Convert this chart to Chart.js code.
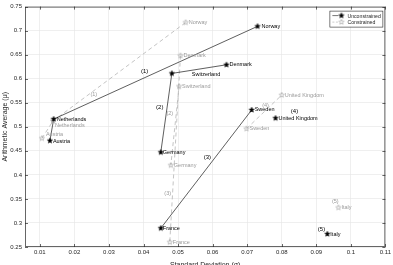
<!DOCTYPE html>
<html>
<head>
<meta charset="utf-8">
<script src="https://cdn.jsdelivr.net/npm/chart.js@4/dist/chart.umd.min.js"></script>
<style>
  html, body { margin: 0; padding: 0; background: #fff; }
</style>
</head>
<body>
<canvas id="riskChart" width="393" height="265"></canvas>
<script>
// countries, same order in every array below
const countries = ["Norway", "Denmark", "Switzerland", "Netherlands", "Austria",
  "Germany", "France", "Sweden", "United Kingdom", "Italy"];

// unconstrained portfolio (sigma, mu)
const uncX = [0.073, 0.064, 0.0482, 0.014, 0.0129, 0.045, 0.045, 0.0713, 0.0782, 0.0932];
const uncY = [0.709, 0.629, 0.611, 0.516, 0.471, 0.447, 0.289, 0.535, 0.518, 0.277];

// constrained portfolio (sigma, mu)
const conX = [0.0522, 0.0507, 0.0503, 0.0138, 0.0106, 0.0479, 0.0476, 0.0698, 0.080, 0.0964];
const conY = [0.717, 0.648, 0.584, 0.512, 0.476, 0.420, 0.260, 0.496, 0.566, 0.332];

// links between countries (index pairs)
const uncLinks = [[4, 3], [3, 0], [2, 1], [5, 2], [6, 7]];
const conLinks = [[4, 3], [3, 0], [1, 6], [2, 5], [7, 8]];

// group numbers
const groupNames = ["(1)", "(2)", "(3)", "(4)", "(5)"];
const uncNoteX = [0.0403, 0.0447, 0.0585, 0.0837, 0.0915];
const uncNoteY = [0.615, 0.541, 0.436, 0.533, 0.287];
const conNoteX = [0.0256, 0.0476, 0.0470, 0.0753, 0.0955];
const conNoteY = [0.568, 0.527, 0.361, 0.545, 0.344];

const xTicks = [0.01, 0.02, 0.03, 0.04, 0.05, 0.06, 0.07, 0.08, 0.09, 0.1, 0.11];
const yTicks = [0.25, 0.3, 0.35, 0.4, 0.45, 0.5, 0.55, 0.6, 0.65, 0.7, 0.75];

// label nudges in px
const uncOff = [[4, 0], [3, 0], [20, 1], [3, 0], [3, 1], [2, 0], [2, 0], [3, 0], [3, 0], [3, 0]];
const conOff = [[3, 0], [3, 0], [3, 0], [2, 4], [4, -4], [3, 0], [3, 0], [3, 0], [3, 0], [3, 0]];

const FONT = '"Liberation Sans", Arial, sans-serif';
const GREY = "#9a9a9a";

const makeStar = (r, fill, stroke) => {
  const c = document.createElement("canvas");
  const s = Math.ceil(r * 2 + 2);
  c.width = s;
  c.height = s;
  const g = c.getContext("2d");
  g.beginPath();
  for (let i = 0; i < 10; i++) {
    const rad = i % 2 ? r * 0.42 : r;
    const a = -Math.PI / 2 + (i * Math.PI) / 5;
    g.lineTo(s / 2 + rad * Math.cos(a), s / 2 + rad * Math.sin(a));
  }
  g.closePath();
  if (fill) {
    g.fillStyle = fill;
    g.fill();
  }
  g.strokeStyle = stroke;
  g.lineWidth = 0.6;
  g.stroke();
  return c;
};

const blackStar = makeStar(2.7, "#000", "#000");
const greyStar = makeStar(2.7, null, GREY);

const pts = (xs, ys) => xs.map((v, i) => ({ x: v, y: ys[i] }));
const segs = (links, xs, ys, dashed) =>
  links.map(([a, b]) => ({
    data: [{ x: xs[a], y: ys[a] }, { x: xs[b], y: ys[b] }],
    showLine: true,
    pointRadius: 0,
    borderColor: dashed ? "#aaaaaa" : "#1a1a1a",
    borderWidth: 0.7,
    borderDash: dashed ? [4, 3] : [],
    isSegment: true,
  }));

const decorations = {
  id: "decorations",
  afterDatasetsDraw(chart) {
    const { ctx, scales: { x, y }, chartArea: a } = chart;
    ctx.save();

    // axes box + inner ticks
    ctx.strokeStyle = "#262626";
    ctx.lineWidth = 0.7;
    ctx.strokeRect(a.left + 0.5, a.top + 0.5, a.right - a.left - 1, a.bottom - a.top - 1);
    ctx.beginPath();
    xTicks.forEach((v) => {
      const px = Math.round(x.getPixelForValue(v)) + 0.5;
      ctx.moveTo(px, a.bottom);
      ctx.lineTo(px, a.bottom - 3);
      ctx.moveTo(px, a.top);
      ctx.lineTo(px, a.top + 3);
    });
    yTicks.forEach((v) => {
      const py = Math.round(y.getPixelForValue(v)) + 0.5;
      ctx.moveTo(a.left, py);
      ctx.lineTo(a.left + 3, py);
      ctx.moveTo(a.right, py);
      ctx.lineTo(a.right - 3, py);
    });
    ctx.stroke();

    // country labels
    ctx.textBaseline = "middle";
    ctx.textAlign = "left";
    ctx.font = "5.5px " + FONT;
    countries.forEach((name, i) => {
      ctx.fillStyle = GREY;
      ctx.fillText(name, x.getPixelForValue(conX[i]) + conOff[i][0], y.getPixelForValue(conY[i]) + conOff[i][1]);
      ctx.fillStyle = "#000";
      ctx.fillText(name, x.getPixelForValue(uncX[i]) + uncOff[i][0], y.getPixelForValue(uncY[i]) + uncOff[i][1]);
    });

    // group numbers
    ctx.textAlign = "center";
    groupNames.forEach((g, i) => {
      ctx.font = "5.5px " + FONT;
      ctx.fillStyle = GREY;
      ctx.fillText(g, x.getPixelForValue(conNoteX[i]), y.getPixelForValue(conNoteY[i]));
      ctx.font = "6px " + FONT;
      ctx.fillStyle = "#000";
      ctx.fillText(g, x.getPixelForValue(uncNoteX[i]), y.getPixelForValue(uncNoteY[i]));
    });

    // legend
    const bx = a.right - 56, by = a.top + 4, bw = 53, bh = 16;
    ctx.fillStyle = "#fff";
    ctx.fillRect(bx, by, bw, bh);
    ctx.strokeStyle = "#262626";
    ctx.lineWidth = 0.6;
    ctx.strokeRect(bx + 0.5, by + 0.5, bw, bh);
    ctx.textAlign = "left";
    ctx.font = "5.2px " + FONT;
    chart.data.datasets.filter((d) => !d.isSegment).forEach((d, i) => {
      const ry = by + 5 + i * 6.5;
      ctx.beginPath();
      ctx.strokeStyle = i === 0 ? "#1a1a1a" : "#aaaaaa";
      ctx.setLineDash(i === 0 ? [] : [2, 1.5]);
      ctx.moveTo(bx + 3, ry);
      ctx.lineTo(bx + 9, ry);
      ctx.stroke();
      ctx.setLineDash([]);
      const st = d.pointStyle;
      ctx.drawImage(st, bx + 12 - st.width / 2, ry - st.height / 2);
      ctx.fillStyle = "#262626";
      ctx.fillText(d.label, bx + 18, ry + 0.5);
    });

    ctx.restore();
  },
};

const ctx = document.getElementById("riskChart").getContext("2d");
new Chart(ctx, {
  type: "scatter",
  data: {
    datasets: [
      {
        label: "Unconstrained",
        data: pts(uncX, uncY),
        pointStyle: blackStar,
        showLine: false,
      },
      {
        label: "Constrained",
        data: pts(conX, conY),
        pointStyle: greyStar,
        showLine: false,
      },
      ...segs(uncLinks, uncX, uncY, false),
      ...segs(conLinks, conX, conY, true),
    ],
  },
  options: {
    responsive: false,
    animation: false,
    layout: { padding: { top: 3, right: 7, left: 0, bottom: 0 } },
    plugins: {
      legend: { display: false },
      tooltip: { enabled: false },
    },
    scales: {
      x: {
        type: "linear",
        min: 0.0057,
        max: 0.11,
        afterBuildTicks: (s) => {
          s.ticks = xTicks.map((v) => ({ value: v }));
        },
        afterFit: (s) => {
          s.height = 18;
        },
        ticks: {
          callback: (v) => String(v),
          font: { family: FONT, size: 6 },
          color: "#262626",
          padding: 2,
          maxRotation: 0,
          autoSkip: false,
        },
        grid: { color: "#e4e4e4", lineWidth: 0.6, drawTicks: false },
        border: { display: false },
        title: {
          display: true,
          text: "Standard Deviation (σ)",
          font: { family: FONT, size: 7 },
          color: "#262626",
          padding: { top: 0, bottom: -4 },
        },
      },
      y: {
        type: "linear",
        min: 0.25,
        max: 0.75,
        afterBuildTicks: (s) => {
          s.ticks = yTicks.map((v) => ({ value: v }));
        },
        afterFit: (s) => {
          s.width = 25;
        },
        ticks: {
          callback: (v) => String(v),
          font: { family: FONT, size: 6 },
          color: "#262626",
          padding: 3,
          autoSkip: false,
        },
        grid: { color: "#e4e4e4", lineWidth: 0.6, drawTicks: false },
        border: { display: false },
        title: {
          display: true,
          text: "Arithmetic Average (μ)",
          font: { family: FONT, size: 7 },
          color: "#262626",
          padding: { top: 1, bottom: 0 },
        },
      },
    },
  },
  plugins: [decorations],
});
</script>
</body>
</html>
